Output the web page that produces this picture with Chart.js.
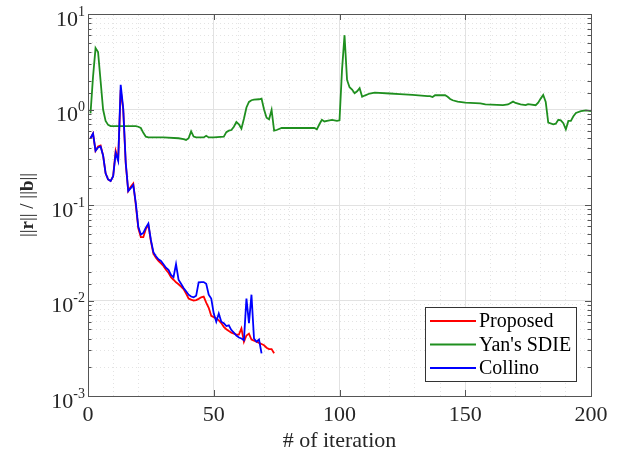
<!DOCTYPE html>
<html>
<head>
<meta charset="utf-8">
<script src="https://cdn.jsdelivr.net/npm/chart.js@4.4.1/dist/chart.umd.min.js"></script>
<style>
  html, body { margin: 0; padding: 0; background: #fff; }
  canvas { display: block; }
</style>
</head>
<body>
<canvas id="residualChart" width="619" height="460"></canvas>
<script>
// residual history (iteration starts at 1)
const proposedRes = [
  0.50, 0.56, 0.37, 0.41, 0.42, 0.33, 0.215, 0.185, 0.178, 0.20,
  0.37, 0.30, 1.60, 1.00, 0.27, 0.14, 0.155, 0.168, 0.10, 0.057,
  0.046, 0.046, 0.056, 0.062, 0.042, 0.031, 0.028, 0.026, 0.0245, 0.023,
  0.021, 0.0195, 0.0175, 0.0165, 0.0155, 0.0148, 0.014, 0.0132, 0.0118, 0.0105,
  0.0102, 0.0100, 0.0101, 0.0104, 0.0108, 0.0110, 0.0095, 0.0084, 0.0069, 0.0067,
  0.0065, 0.0062, 0.0058, 0.0053, 0.0050, 0.0048, 0.0046, 0.0045, 0.0044, 0.0044,
  0.0051, 0.0037, 0.0043, 0.0045, 0.0039, 0.0038, 0.0037, 0.0036, 0.0035, 0.0034,
  0.0032, 0.0031, 0.0031, 0.0028
];

const collinoRes = [
  0.50, 0.56, 0.37, 0.40, 0.41, 0.33, 0.215, 0.185, 0.178, 0.20,
  0.35, 0.29, 1.81, 1.03, 0.28, 0.14, 0.15, 0.162, 0.105, 0.059,
  0.049, 0.051, 0.058, 0.064, 0.043, 0.032, 0.029, 0.027, 0.026, 0.024,
  0.022, 0.021, 0.0185, 0.0175, 0.024, 0.0165, 0.015, 0.0135, 0.0125, 0.0115,
  0.011, 0.0108, 0.0112, 0.0155, 0.0156, 0.0156, 0.015, 0.0115, 0.0105, 0.0073,
  0.0060, 0.0073, 0.0060, 0.0058, 0.0054, 0.0055, 0.0049, 0.0046, 0.0043, 0.0041,
  0.0040, 0.00385, 0.0105, 0.0058, 0.0115, 0.0040, 0.0037, 0.0039, 0.0028
];

// Yan's SDIE: the flat stretches are given by their end points only
const yanIter = [
  1, 2, 3, 4, 5, 6, 7, 8, 9, 12, 16, 19, 20, 21, 22, 23, 24, 30, 36, 38,
  39, 40, 41, 42, 43, 46, 47, 48, 50, 54, 55, 56, 57, 58, 59, 60, 61, 62, 63, 64,
  65, 66, 68, 69, 70, 71, 72, 73, 74, 75, 77, 85, 90, 91, 92, 93, 94, 95, 97, 99,
  100, 101, 102, 103, 104, 105, 106, 107, 108, 109, 110, 112, 114, 120, 124, 129, 135, 136, 137, 138,
  142, 143, 144, 145, 147, 150, 156, 158, 165, 167, 169, 170, 172, 174, 175, 178, 179, 180, 181, 182,
  183, 185, 186, 187, 188, 189, 190, 191, 192, 193, 194, 196, 198, 200
];
const yanRes = [
  0.91, 2.2, 4.4, 4.0, 2.0, 1.0, 0.76, 0.69, 0.67, 0.67, 0.67, 0.67, 0.66, 0.64, 0.57, 0.52, 0.51, 0.51, 0.50, 0.49,
  0.48, 0.50, 0.59, 0.52, 0.51, 0.51, 0.53, 0.51, 0.51, 0.52, 0.58, 0.60, 0.61, 0.66, 0.74, 0.70, 0.63, 0.80, 1.05, 1.20,
  1.25, 1.27, 1.28, 1.30, 1.00, 0.82, 0.79, 0.99, 0.60, 0.61, 0.64, 0.64, 0.64, 0.62, 0.70, 0.78, 0.75, 0.76, 0.78, 0.76,
  0.77, 2.6, 6.0, 2.04, 1.71, 1.62, 1.48, 1.55, 1.67, 1.36, 1.40, 1.47, 1.50, 1.47, 1.45, 1.42, 1.38, 1.38, 1.35, 1.41,
  1.41, 1.36, 1.29, 1.25, 1.21, 1.18, 1.16, 1.13, 1.11, 1.13, 1.21, 1.17, 1.13, 1.11, 1.14, 1.11, 1.18, 1.30, 1.42, 1.20,
  0.73, 0.70, 0.71, 0.78, 0.77, 0.72, 0.62, 0.76, 0.76, 0.85, 0.92, 0.96, 0.98, 0.96
];

const seriesLabels = ["Proposed", "Yan's SDIE", "Collino"];
const xTicks = [0, 50, 100, 150, 200];
const xMinorStep = 10;
const yMin = 1e-3;
const yMax = 1e1;

const serif = '"Liberation Serif", "Times New Roman", serif';
const axisColor = '#555555';
const textColor = '#262626';

// ------------------------------------------------------------
// helpers
// ------------------------------------------------------------
function toPoints(iters, values) {
  return values.map((v, i) => ({ x: iters[i], y: v }));
}

function iterationsOf(values) {
  return values.map((v, i) => i + 1);
}

function isDecade(v) {
  const l = Math.log10(v);
  return Math.abs(l - Math.round(l)) < 1e-6;
}

// ------------------------------------------------------------
// plugin: MATLAB style y tick labels (10 with superscript)
// ------------------------------------------------------------
const decadeLabels = {
  id: 'decadeLabels',
  afterDraw(chart) {
    const { ctx } = chart;
    const s = chart.scales.y;
    ctx.save();
    ctx.fillStyle = textColor;
    ctx.textAlign = 'right';
    ctx.textBaseline = 'middle';
    s.ticks.forEach(t => {
      const y = s.getPixelForValue(t.value);
      const exp = String(Math.round(Math.log10(t.value)));
      const xr = s.right - 3;
      ctx.font = '14px ' + serif;
      const ew = ctx.measureText(exp).width;
      ctx.fillText(exp, xr, y - 2);
      ctx.font = '22px ' + serif;
      ctx.fillText('10', xr - ew, y + 6);
    });
    ctx.restore();
  }
};

// ------------------------------------------------------------
// plugin: y title with bold vectors, ||r|| / ||b||
// ------------------------------------------------------------
const yTitle = {
  id: 'yTitle',
  afterDraw(chart) {
    const { ctx, chartArea } = chart;
    const parts = [
      ['||', 'normal'], ['r', 'bold'], ['|| / ||', 'normal'], ['b', 'bold'], ['||', 'normal']
    ];
    ctx.save();
    ctx.translate(28, (chartArea.top + chartArea.bottom) / 2);
    ctx.rotate(-Math.PI / 2);
    ctx.fillStyle = textColor;
    ctx.textBaseline = 'middle';
    ctx.textAlign = 'left';
    let total = 0;
    parts.forEach(p => { ctx.font = p[1] + ' 19px ' + serif; total += ctx.measureText(p[0]).width; });
    let x = -total / 2;
    parts.forEach(p => {
      ctx.font = p[1] + ' 19px ' + serif;
      ctx.fillText(p[0], x, 0);
      x += ctx.measureText(p[0]).width;
    });
    ctx.restore();
  }
};

// ------------------------------------------------------------
// plugin: inward tick marks on all four sides
// ------------------------------------------------------------
const inwardTicks = {
  id: 'inwardTicks',
  afterDatasetsDraw(chart) {
    const { ctx, chartArea } = chart;
    const yr = chart.scales.yRight;
    const xb = chart.scales.x;
    ctx.save();
    ctx.strokeStyle = axisColor;
    ctx.lineWidth = 1;
    ctx.beginPath();
    yr.ticks.forEach(t => {
      const y = Math.round(yr.getPixelForValue(t.value)) + 0.5;
      const len = isDecade(t.value) ? 6 : 3.5;
      ctx.moveTo(chartArea.left, y); ctx.lineTo(chartArea.left + len, y);
      ctx.moveTo(chartArea.right, y); ctx.lineTo(chartArea.right - len, y);
    });
    xb.ticks.forEach(t => {
      const x = Math.round(xb.getPixelForValue(t.value)) + 0.5;
      ctx.moveTo(x, chartArea.bottom); ctx.lineTo(x, chartArea.bottom - 6);
      ctx.moveTo(x, chartArea.top); ctx.lineTo(x, chartArea.top + 6);
    });
    ctx.stroke();
    ctx.restore();
  }
};

// ------------------------------------------------------------
// plugin: legend box in the lower right corner of the axes
// ------------------------------------------------------------
const boxLegend = {
  id: 'boxLegend',
  afterDraw(chart) {
    const { ctx, chartArea } = chart;
    const w = 151, h = 74;
    const x0 = chartArea.right - 15 - w;
    const y0 = chartArea.bottom - 15 - h;
    ctx.save();
    ctx.fillStyle = '#ffffff';
    ctx.fillRect(x0, y0, w, h);
    ctx.strokeStyle = '#333333';
    ctx.lineWidth = 1;
    ctx.strokeRect(Math.round(x0) + 0.5, Math.round(y0) + 0.5, w, h);
    ctx.font = '20px ' + serif;
    ctx.textBaseline = 'middle';
    ctx.textAlign = 'left';
    chart.data.datasets.forEach((ds, i) => {
      const y = y0 + 14 + i * 23.5;
      ctx.strokeStyle = ds.borderColor;
      ctx.lineWidth = 1.8;
      ctx.beginPath();
      ctx.moveTo(x0 + 5, y);
      ctx.lineTo(x0 + 51, y);
      ctx.stroke();
      ctx.fillStyle = '#000000';
      ctx.fillText(ds.label, x0 + 54, y + 1);
    });
    ctx.restore();
  }
};

// ------------------------------------------------------------
// chart
// ------------------------------------------------------------
const ctx = document.getElementById('residualChart').getContext('2d');

new Chart(ctx, {
  type: 'line',
  data: {
    datasets: [
      {
        label: seriesLabels[0],
        data: toPoints(iterationsOf(proposedRes), proposedRes),
        borderColor: '#ff0000',
        order: 2
      },
      {
        label: seriesLabels[1],
        data: toPoints(yanIter, yanRes),
        borderColor: '#1f8f1f',
        order: 1
      },
      {
        label: seriesLabels[2],
        data: toPoints(iterationsOf(collinoRes), collinoRes),
        borderColor: '#0000ff',
        order: 0
      }
    ]
  },
  options: {
    responsive: false,
    animation: false,
    layout: { padding: 0 },
    elements: {
      line: { borderWidth: 1.8, tension: 0, fill: false },
      point: { radius: 0, hoverRadius: 0 }
    },
    plugins: {
      legend: { display: false },
      tooltip: { enabled: false }
    },
    scales: {
      x: {
        type: 'linear',
        position: 'bottom',
        min: 0,
        max: 200,
        afterBuildTicks: s => { s.ticks = xTicks.map(v => ({ value: v })); },
        ticks: {
          font: { family: serif, size: 22 },
          color: textColor,
          padding: 6,
          maxRotation: 0,
          autoSkip: false
        },
        grid: {
          drawTicks: false,
          color: c => (c.tick && (c.tick.value === 0 || c.tick.value === 200)) ? 'rgba(0,0,0,0)' : '#e2e2e2'
        },
        border: { color: axisColor, width: 1 },
        title: {
          display: true,
          text: '# of iteration',
          font: { family: serif, size: 22 },
          color: textColor,
          padding: { top: 0, bottom: 6 }
        },
        afterFit: s => { s.height = 64; }
      },
      xTop: {
        type: 'linear',
        position: 'top',
        min: 0,
        max: 200,
        ticks: { display: false, stepSize: xMinorStep },
        grid: {
          drawTicks: false,
          color: c => (c.tick && c.tick.value % 50 !== 0) ? '#e3e3e3' : 'rgba(0,0,0,0)'
        },
        border: { color: axisColor, width: 1, dash: c => (c.tick ? [1, 3] : []) },
        afterFit: s => { s.height = 14; }
      },
      y: {
        type: 'logarithmic',
        position: 'left',
        min: yMin,
        max: yMax,
        afterBuildTicks: s => { s.ticks = s.ticks.filter(t => isDecade(t.value)); },
        ticks: { display: false },
        grid: {
          drawTicks: false,
          color: c => (c.tick && (c.tick.value <= yMin * 1.0001 || c.tick.value >= yMax * 0.9999)) ? 'rgba(0,0,0,0)' : '#e2e2e2'
        },
        border: { color: axisColor, width: 1 },
        afterFit: s => { s.width = 88; }
      },
      yRight: {
        type: 'logarithmic',
        position: 'right',
        min: yMin,
        max: yMax,
        ticks: { display: false },
        grid: {
          drawTicks: false,
          color: c => (c.tick && !isDecade(c.tick.value)) ? '#e3e3e3' : 'rgba(0,0,0,0)'
        },
        border: { color: axisColor, width: 1, dash: c => (c.tick ? [1, 3] : []) },
        afterFit: s => { s.width = 28; }
      }
    }
  },
  plugins: [inwardTicks, decadeLabels, yTitle, boxLegend]
});
</script>
</body>
</html>
